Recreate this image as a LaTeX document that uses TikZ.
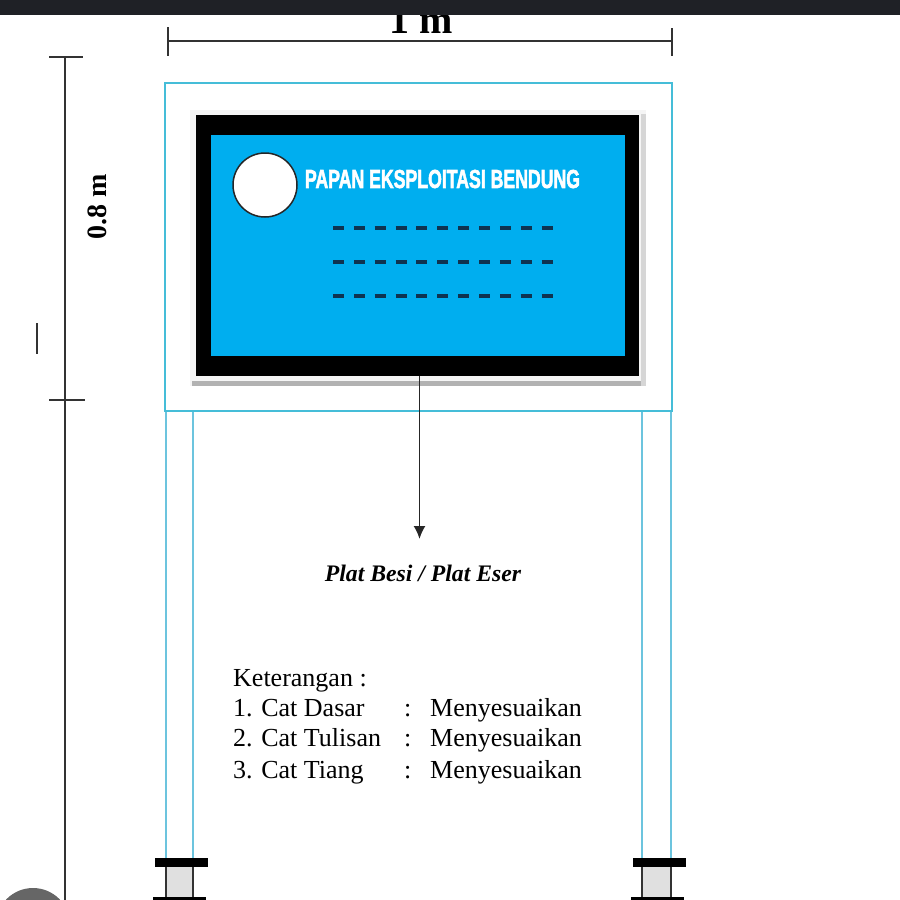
\documentclass[tikz,border=0pt]{standalone}
\usepackage{fontspec}
\setmainfont{Liberation Serif}
\setsansfont{Liberation Sans}
\newfontfamily\titlefont[FakeBold=2.5]{Liberation Sans Bold}
\usetikzlibrary{arrows,arrows.meta,positioning}
\definecolor{frameblue}{HTML}{45BDD8}
\definecolor{postblue}{HTML}{6CC4DE}
\definecolor{boardblue}{HTML}{00AEEF}
\definecolor{topbar}{HTML}{1F2126}
\definecolor{dashdark}{HTML}{0F3350}
\tikzset{
	frame line/.style={draw=frameblue, line width=1.7pt},
	post line/.style={draw=postblue, line width=2.4pt},
	dim line/.style={draw=black!80, line width=2pt},
	base bar/.style={fill=black, draw=none},
	base block/.style={fill=black!12, draw=none},
	base side/.style={draw=black!80, line width=2.2pt},
	dash row/.style={draw=dashdark, line width=3.4pt, dash pattern=on 11pt off 9.87pt},
	dim label/.style={font=\bfseries, inner sep=0pt},
	note text/.style={font=\fontsize{26}{30}\selectfont, anchor=base west, inner sep=0pt}
}
\begin{document}
\begin{tikzpicture}[x=1pt,y=-1pt,>=latex]
	\useasboundingbox (0,0) rectangle (900,900);
	\clip (0,0) rectangle (900,900);
	% posts and feet
	\foreach \px/\qx/\bx/\cx in {166/193/155/153, 642/671/633/631} {
		\draw[post line] (\px,411) -- (\px,858);
		\draw[post line] (\qx,411) -- (\qx,858);
		\fill[base block] (\px,866) rectangle (\qx,897);
		\draw[base side] (\px,866) -- (\px,897);
		\draw[base side] (\qx,866) -- (\qx,897);
		\fill[base bar] (\bx,858) rectangle ({\bx+53},867);
		\fill[base bar] (\cx,897) rectangle ({\cx+53},901);
	}
	% board
	\draw[frame line] (165,83) rectangle (672,411);
	\fill[black!4] (190,110) rectangle (646,386);
	\fill[black!30] (192,381) rectangle (646,386);
	\fill[black!16] (641,114) rectangle (646,386);
	\fill[black] (196,115) rectangle (639,376);
	\fill[boardblue] (211,135) rectangle (625,356);
	\node[circle, draw=black!85, fill=white, line width=1.5pt, minimum size=64pt, inner sep=0pt] (logo) at (265,185) {};
	\node[inner sep=0pt, text=white, font=\titlefont\fontsize{26}{26}\selectfont] (title) at (442.5,179)
		{\scalebox{0.68}[1]{PAPAN EKSPLOITASI BENDUNG}};
	\foreach \ry in {228,262,296} {
		\draw[dash row] (333,\ry) -- (553,\ry);
	}
	% arrow to the plate
	\coordinate (plateTop) at (419.5,376);
	\coordinate (plateEnd) at (419.5,539);
	\draw[-{Latex[length=13pt,width=12pt]}, draw=black!85, line width=1.8pt] (plateTop) -- (plateEnd);
	\node[inner sep=0pt, font=\fontsize{23.7}{26}\selectfont\bfseries\itshape] (plate) at (423,573) {Plat Besi / Plat Eser};
	% notes
	\node[note text] (note) at (233,686) {Keterangan :};
	\node[note text] (rowA) at (233,716) {1. Cat Dasar};
	\node[note text] (rowB) at (233,746) {2. Cat Tulisan};
	\node[note text] (rowC) at (233,778) {3. Cat Tiang};
	\node[note text] (colA) at (404,716) {:};
	\node[note text] (colB) at (404,746) {:};
	\node[note text] (colC) at (404,778) {:};
	\node[note text] (valA) at (430,716) {Menyesuaikan};
	\node[note text] (valB) at (430,746) {Menyesuaikan};
	\node[note text] (valC) at (430,778) {Menyesuaikan};
	% dimensions
	\coordinate (widthL) at (168,41);
	\coordinate (widthR) at (672,41);
	\draw[dim line] (widthL) -- (widthR);
	\draw[dim line] (168,27) -- (168,56);
	\draw[dim line] (672,28) -- (672,56);
	\node[dim label, anchor=base, font=\bfseries\fontsize{40}{40}\selectfont] (widthText) at (421,33) {1 m};
	\coordinate (heightT) at (65,57);
	\coordinate (heightB) at (65,900);
	\draw[dim line] (heightT) -- (heightB);
	\draw[dim line] (49,57) -- (83,57);
	\draw[dim line] (49,400) -- (85,400);
	\node[dim label, rotate=90, font=\bfseries\fontsize{28}{28}\selectfont] (heightText) at (97,207) {0.8 m};
	\draw[dim line] (36.5,323) -- (36.5,354);
	% screen edges
	\fill[topbar] (0,0) rectangle (900,15);
	\fill[black!60] (33,925) circle (37);
\end{tikzpicture}
\end{document}
